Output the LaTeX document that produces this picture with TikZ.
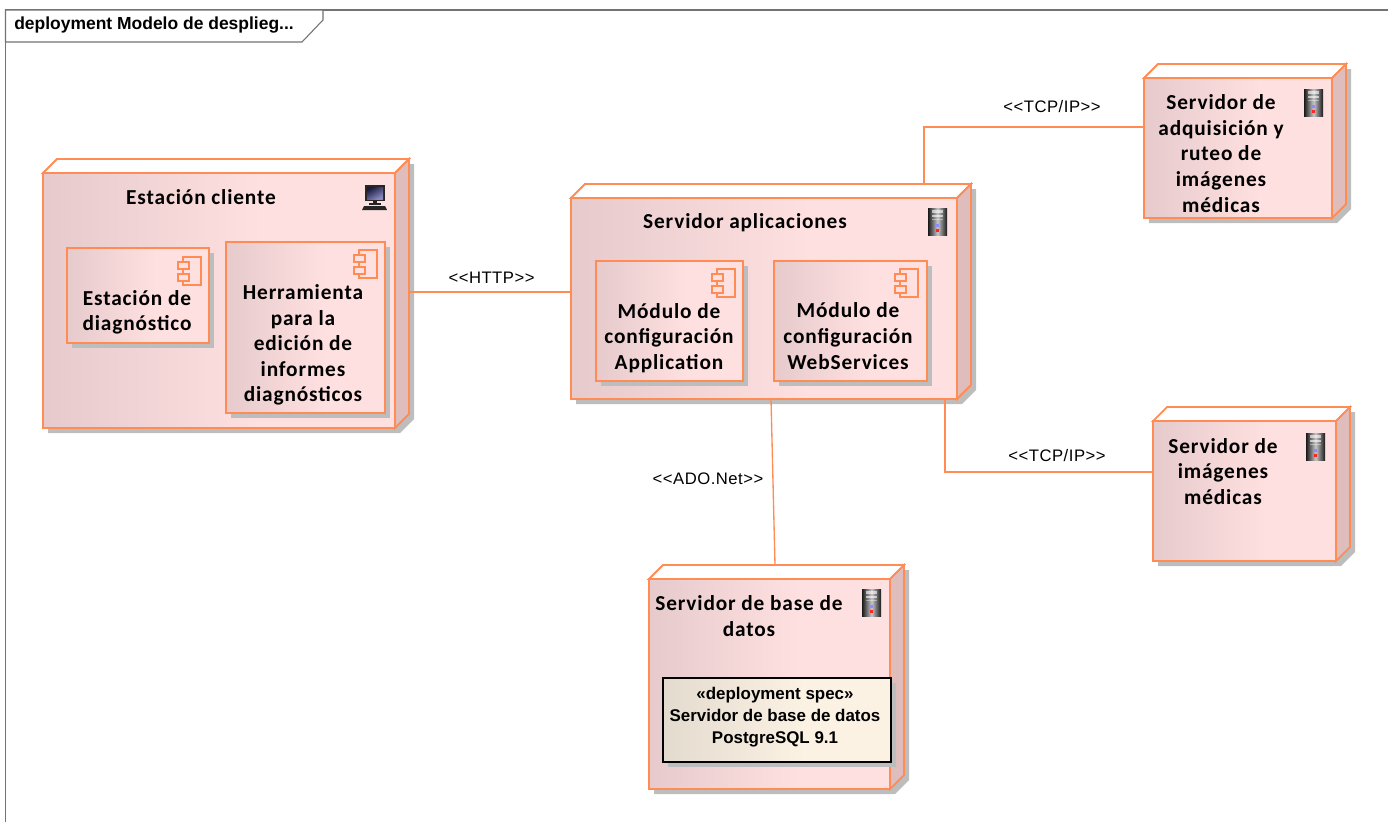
\documentclass[tikz,border=0pt]{standalone}
\usepackage{fontspec}
\setmainfont{Liberation Sans}
\newfontfamily\carl[LetterSpace=4]{Carlito}
\newfontfamily\connf[LetterSpace=3]{Liberation Sans}
\usetikzlibrary{fit}
\definecolor{uline}{HTML}{FF8C55}
\definecolor{ufill}{HTML}{FFE0E0}
\definecolor{ufilld}{HTML}{E6CACC}
\definecolor{uside}{HTML}{DFBDBD}
\definecolor{ushadow}{HTML}{BDBDBD}
\definecolor{sfilld}{HTML}{E4DBCF}
\definecolor{sfill}{HTML}{FBF2E4}
\definecolor{scrdark}{HTML}{1A1A40}
\definecolor{scrlight}{HTML}{8A8AC0}
\pgfdeclarehorizontalshading{nodeshade}{100bp}{color(0bp)=(ufilld); color(25bp)=(ufilld); color(56bp)=(ufill); color(100bp)=(ufill)}
\pgfdeclarehorizontalshading{specshade}{100bp}{color(0bp)=(sfilld); color(25bp)=(sfilld); color(56bp)=(sfill); color(100bp)=(sfill)}
\pgfdeclarehorizontalshading{srvshade}{100bp}{color(0bp)=(black); color(25bp)=(black!90); color(50bp)=(black!22); color(75bp)=(black!90); color(100bp)=(black)}
\tikzset{
  edge line/.style={draw=uline,line width=1pt},
  solid line/.style={draw=uline,line width=1.35pt,line join=miter},
  name text/.style={font=\carl\fontsize{16}{19.2}\selectfont\bfseries,align=center,inner sep=0pt,text=black},
  conn text/.style={font=\connf\fontsize{12.5}{14}\selectfont,inner sep=0pt,text=black},
  spec text/.style={font=\fontsize{12.7}{16.4}\selectfont\bfseries,align=center,inner sep=0pt,text=black},
  holder/.style={inner sep=0pt,outer sep=0pt},
}
% name, x0, y0, x1, y1 (front face)
\newcommand{\udnode}[5]{%
  \fill[ushadow] (#2+5,#3) -- (#2+5,#5+5) -- (#4+5,#5+5) -- (#4+19,#5-9) -- (#4+19,#3-9) -- cycle;
  \filldraw[solid line,fill=white] (#2,#3) -- (#2+14,#3-14) -- (#4+14,#3-14) -- (#4,#3) -- cycle;
  \filldraw[solid line,fill=uside] (#4,#3) -- (#4+14,#3-14) -- (#4+14,#5-14) -- (#4,#5) -- cycle;
  \shade[shading=nodeshade] (#2,#3) rectangle (#4,#5);
  \draw[solid line] (#2,#3) rectangle (#4,#5);
  \node[holder,fit={(#2,#3-14)(#4+14,#5)}] (#1) {};
}
\newcommand{\compbox}[5]{%
  \fill[ushadow] (#2+5,#3+5) rectangle (#4+5,#5+5);
  \shade[shading=nodeshade] (#2,#3) rectangle (#4,#5);
  \draw[solid line] (#2,#3) rectangle (#4,#5);
  \node[holder,fit={(#2,#3)(#4,#5)}] (#1) {};
}
% right, top
\newcommand{\compicon}[2]{%
  \draw[uline,line width=0.8pt] (#1-18,#2) rectangle (#1,#2+28);
  \filldraw[uline,line width=0.8pt,fill=ufill] (#1-23,#2+5) rectangle (#1-12,#2+12);
  \filldraw[uline,line width=0.8pt,fill=ufill] (#1-23,#2+17) rectangle (#1-12,#2+24);
}
% left, top
\newcommand{\srvicon}[2]{%
  \shade[shading=srvshade] (#1,#2) rectangle (#1+19,#2+27);
  \fill[white,opacity=.6] (#1+4,#2+2) rectangle (#1+15,#2+5);
  \fill[white,opacity=.6] (#1+4,#2+7) rectangle (#1+15,#2+9);
  \fill[white,opacity=.4] (#1+4,#2+11) rectangle (#1+15,#2+12);
  \fill[blue!45!white] (#1+8,#2+16) rectangle (#1+11,#2+19);
  \fill[red!85!white] (#1+8,#2+21) rectangle (#1+11,#2+24);
}
\newcommand{\pcicon}[2]{%
  \fill[black!85] (#1+3,#2) rectangle (#1+23,#2+16);
  \shade[left color=scrdark,right color=scrlight,shading angle=30] (#1+5,#2+2) rectangle (#1+21,#2+14);
  \fill[black!85] (#1+11,#2+16) rectangle (#1+15,#2+18);
  \fill[black!85] (#1+7,#2+18) rectangle (#1+19,#2+20);
  \fill[black!85] (#1+2,#2+21) -- (#1+23,#2+21) -- (#1+25,#2+25) -- (#1,#2+25) -- cycle;
}
\begin{document}
\begin{tikzpicture}[x=0.75pt,y=-0.75pt]
\useasboundingbox (0,0) rectangle (1388,822);
% frame
\draw[black!55,line width=0.8pt] (5.5,822) -- (5.5,10) -- (1388,10);
\filldraw[draw=black!55,fill=white,line width=0.8pt] (5.5,10) -- (323,10) -- (323,20) -- (302,42) -- (5.5,42) -- cycle;
\node[anchor=west,inner sep=0pt,font=\fontsize{13.1}{14}\selectfont\bfseries] (title) at (14,25.5) {deployment Modelo de desplieg...};

\udnode{est}{43}{173}{395}{428}
\udnode{app}{571}{198}{957}{399}
\udnode{bd}{649}{579}{890}{789}
\udnode{adq}{1144}{78}{1332}{218}
\udnode{img}{1153}{421}{1336}{561}

% connectors
\draw[edge line] (est.east |- 0,292) -- (app.west |- 0,292);
\draw[edge line] (app.north -| 924,0) -- (924,127) -- (adq.west |- 0,127);
\draw[edge line] (app.south -| 945,0) -- (945,472) -- (img.west |- 0,472);
\draw[edge line] (app.south -| 771,0) -- (bd.north -| 775,0);

\node[conn text] (l1) at (491.5,278) {<{}<HTTP>{}>};
\node[conn text] (l2) at (1052,106.5) {<{}<TCP/IP>{}>};
\node[conn text] (l3) at (1057,455.5) {<{}<TCP/IP>{}>};
\node[conn text] (l4) at (708,478.5) {<{}<ADO.Net>{}>};

% inner boxes
\compbox{diag}{67}{248}{209}{343}
\compbox{herr}{226}{242}{385}{413}
\compbox{moda}{596}{261}{743}{381}
\compbox{modw}{774}{261}{927}{381}
\compicon{201}{257}
\compicon{377}{250}
\compicon{735}{269}
\compicon{918}{269}

% deployment spec
\fill[ushadow] (668,683) rectangle (896,767);
\shade[shading=specshade] (663,678) rectangle (891,762);
\draw[black,line width=0.8pt] (663,678) rectangle (891,762);
\node[holder,fit={(663,678)(891,762)}] (spec) {};
\node[spec text] (spect) at (775,717) {«deployment spec»\\Servidor de base de datos\\PostgreSQL 9.1};

% icons
\pcicon{362}{185}
\srvicon{928}{208}
\srvicon{862}{589}
\srvicon{1304}{89}
\srvicon{1306}{433}

% names
\node[name text] (t1) at (201,197) {Estación cliente};
\node[name text] (t2) at (137,312.5) {Estación de\\diagnóstico};
\node[name text] (t3) at (303,345) {Herramienta\\para la\\edición de\\informes\\diagnósticos};
\node[name text] (t4) at (745,222.5) {Servidor aplicaciones};
\node[name text] (t5) at (669,338) {Módulo de\\configuración\\Application};
\node[name text] (t6) at (848,336) {Módulo de\\configuración\\WebServices};
\node[name text] (t7) at (749,616) {Servidor de base de\\datos};
\node[name text] (t8) at (1221,153.5) {Servidor de\\adquisición y\\ruteo de\\imágenes\\médicas};
\node[name text] (t9) at (1223,471.5) {Servidor de\\imágenes\\médicas};
\end{tikzpicture}
\end{document}
